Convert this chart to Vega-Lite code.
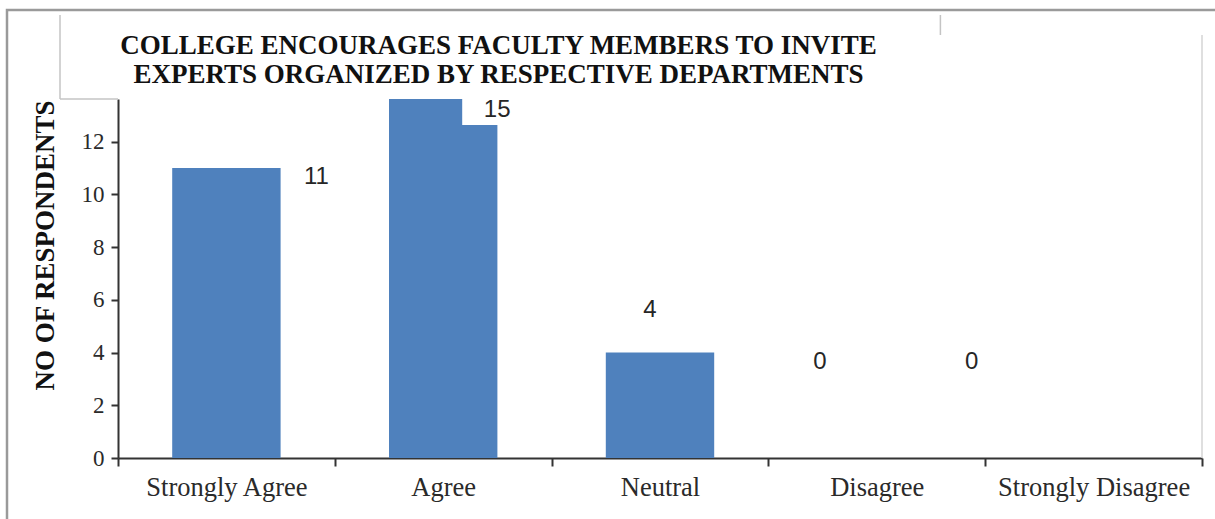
{
  "$schema": "https://vega.github.io/schema/vega-lite/v6.json",
  "width": 1215,
  "height": 515,
  "autosize": "none",
  "padding": {"left": 7, "top": 10, "right": -7, "bottom": -6},
  "background": "white",
  "config": {
    "view": {"stroke": "#9a9a9a", "strokeWidth": 2.5},
    "axis": {"grid": false}
  },
  "title": {
    "text": ["COLLEGE ENCOURAGES FACULTY MEMBERS TO INVITE", "EXPERTS ORGANIZED BY RESPECTIVE DEPARTMENTS"],
    "font": "Liberation Serif",
    "fontSize": 27,
    "fontWeight": "bold",
    "color": "#111111",
    "anchor": "middle",
    "frame": "group",
    "lineHeight": 29,
    "dx": -116,
    "dy": 83
  },
  "data": {
    "values": [
      {"response": "Strongly Agree", "count": 11},
      {"response": "Agree", "count": 15},
      {"response": "Neutral", "count": 4},
      {"response": "Disagree", "count": 0},
      {"response": "Strongly Disagree", "count": 0}
    ]
  },
  "encoding": {
    "x": {
      "field": "response",
      "type": "nominal",
      "sort": null,
      "scale": {"range": [111, 1195], "paddingInner": 0, "paddingOuter": 0},
      "axis": {
        "title": null,
        "orient": "bottom",
        "offset": -67,
        "labelAngle": 0,
        "labelLimit": 0,
        "tickBand": "extent",
        "domainColor": "#333333",
        "domainWidth": 2,
        "tickColor": "#333333",
        "tickWidth": 2,
        "tickSize": 8,
        "labelFont": "Liberation Serif",
        "labelFontSize": 26.5,
        "labelColor": "#2a2a2a",
        "labelBaseline": "alphabetic",
        "labelPadding": 29
      }
    }
  },
  "layer": [
    {
      "mark": {"type": "bar", "color": "#4F81BD", "width": {"band": 0.5}},
      "encoding": {
        "y": {
          "field": "count",
          "type": "quantitative",
          "scale": {"domain": [0, 13.62], "range": [448, 89], "clamp": true, "nice": false, "zero": true},
          "axis": {
            "orient": "left",
            "offset": -111,
            "values": [0, 2, 4, 6, 8, 10, 12],
            "title": "NO OF RESPONDENTS",
            "titleFont": "Liberation Serif",
            "titleFontSize": 27,
            "titleFontWeight": "bold",
            "titleColor": "#111111",
            "titleAngle": -90,
            "titleAlign": "center",
            "titleBaseline": "middle",
            "titleX": -73,
            "titleY": 235,
            "domainColor": "#333333",
            "domainWidth": 2,
            "tickColor": "#333333",
            "tickWidth": 2,
            "tickSize": 7,
            "labelFont": "Liberation Serif",
            "labelFontSize": 23,
            "labelColor": "#2a2a2a",
            "labelPadding": 7
          }
        }
      }
    },
    {
      "transform": [{"filter": "datum.response === 'Agree'"}],
      "mark": {"type": "bar", "color": "white", "width": 45, "xOffset": 41.5},
      "encoding": {"y": {"datum": 12.63}, "y2": {"datum": 15}}
    },
    {
      "transform": [{"filter": "datum.response === 'Strongly Disagree'"}],
      "mark": {"type": "rule", "color": "#d4d4d4", "strokeWidth": 1.5, "y2Offset": -64},
      "encoding": {"x": {"field": "response", "type": "nominal", "bandPosition": 1}, "y": {"datum": 0}, "y2": {"datum": 13.62}}
    },
    {
      "transform": [{"filter": "datum.response === 'Strongly Agree'"}],
      "mark": {"type": "rule", "color": "#c4c4c4", "strokeWidth": 1.5, "xOffset": -58, "y2Offset": -84},
      "encoding": {"x": {"field": "response", "type": "nominal", "bandPosition": 0}, "y": {"datum": 13.62}, "y2": {"datum": 13.62}}
    },
    {
      "transform": [{"filter": "datum.response === 'Strongly Agree'"}],
      "mark": {"type": "rule", "color": "#c4c4c4", "strokeWidth": 1.5, "xOffset": -58},
      "encoding": {"x": {"field": "response", "type": "nominal", "bandPosition": 0}, "x2": {"field": "response", "bandPosition": 0}, "y": {"datum": 13.62}}
    },
    {
      "transform": [{"filter": "datum.response === 'Disagree'"}],
      "mark": {"type": "rule", "color": "#c4c4c4", "strokeWidth": 1.5, "xOffset": 172, "yOffset": -64, "y2Offset": -84},
      "encoding": {"x": {"field": "response", "type": "nominal", "bandPosition": 0}, "y": {"datum": 13.62}, "y2": {"datum": 13.62}}
    },
    {
      "transform": [{"filter": "datum.response === 'Strongly Agree'"}],
      "mark": {"type": "text", "font": "Liberation Sans", "fontSize": 24, "color": "#262626", "baseline": "middle", "dx": 90, "dy": 9},
      "encoding": {"y": {"field": "count", "type": "quantitative"}, "text": {"field": "count"}}
    },
    {
      "transform": [{"filter": "datum.response === 'Agree'"}],
      "mark": {"type": "text", "font": "Liberation Sans", "fontSize": 24, "color": "#262626", "baseline": "middle", "dx": 54, "dy": 11},
      "encoding": {"y": {"field": "count", "type": "quantitative"}, "text": {"field": "count"}}
    },
    {
      "transform": [{"filter": "datum.response === 'Neutral'"}],
      "mark": {"type": "text", "font": "Liberation Sans", "fontSize": 24, "color": "#262626", "baseline": "middle", "dx": -10, "dy": -43},
      "encoding": {"y": {"field": "count", "type": "quantitative"}, "text": {"field": "count"}}
    },
    {
      "transform": [{"filter": "datum.response === 'Disagree'"}],
      "mark": {"type": "text", "font": "Liberation Sans", "fontSize": 24, "color": "#262626", "baseline": "middle", "dx": -57, "dy": -96},
      "encoding": {"y": {"field": "count", "type": "quantitative"}, "text": {"field": "count"}}
    },
    {
      "transform": [{"filter": "datum.response === 'Strongly Disagree'"}],
      "mark": {"type": "text", "font": "Liberation Sans", "fontSize": 24, "color": "#262626", "baseline": "middle", "dx": -122, "dy": -96},
      "encoding": {"y": {"field": "count", "type": "quantitative"}, "text": {"field": "count"}}
    }
  ]
}
